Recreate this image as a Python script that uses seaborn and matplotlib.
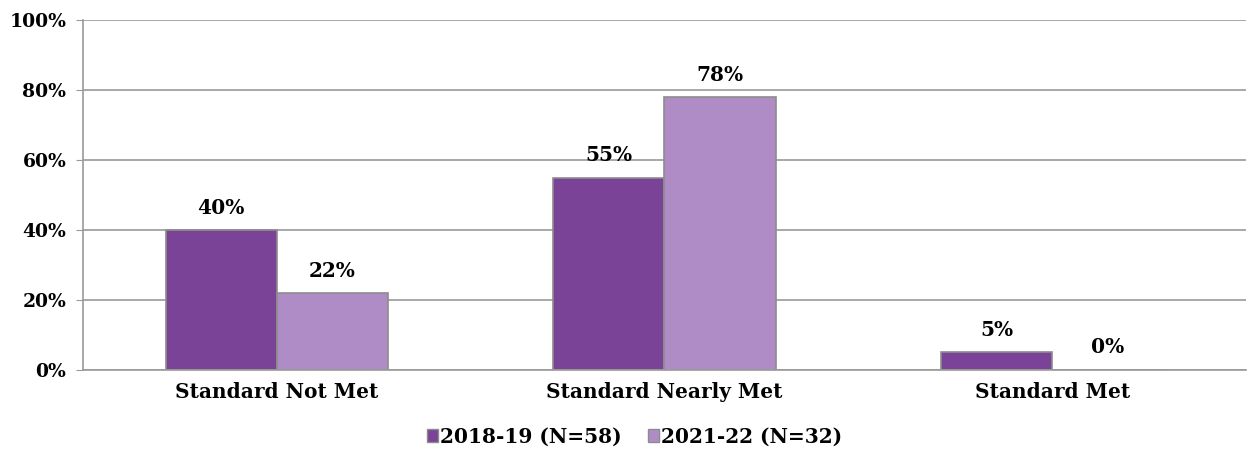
import pandas as pd
import matplotlib
matplotlib.use('Agg')
import matplotlib.pyplot as plt
import seaborn as sns
from matplotlib.patches import Patch

categories = ['Standard Not Met', 'Standard Nearly Met', 'Standard Met']
years = ['2018-19 (N=58)', '2021-22 (N=32)']
pct_2018 = [40, 55, 5]
pct_2021 = [22, 78, 0]

colors = ['#7B4397', '#B08CC6']

df = pd.DataFrame({
    'category': categories * 2,
    'year': [years[0]] * 3 + [years[1]] * 3,
    'pct': pct_2018 + pct_2021,
})

sns.set_style('white')
plt.rcParams['font.family'] = ['DejaVu Serif']
plt.rcParams['font.weight'] = 'bold'
plt.rcParams['text.color'] = 'black'
plt.rcParams['xtick.labelcolor'] = 'black'
plt.rcParams['ytick.labelcolor'] = 'black'

fig = plt.figure(figsize=(12.51, 4.49), dpi=100)
ax = fig.add_axes([0.0663, 0.176, 0.9297, 0.779])

sns.barplot(data=df, x='category', y='pct', hue='year', palette=colors,
            width=0.574, edgecolor='#8c8c8c', linewidth=1.2, ax=ax,
            legend=False, saturation=1)

for cont in ax.containers:
    ax.bar_label(cont, labels=[f'{v:.0f}%' for v in cont.datavalues],
                 padding=9, fontsize=14.5, fontweight='bold', color='black')

ax.set_ylim(0, 100)
ax.set_xlim(-0.5, 2.5)
ax.set_yticks(range(0, 101, 20))
ax.set_yticklabels([f'{v}%' for v in range(0, 101, 20)], fontsize=13.5, fontweight='bold')
ax.set_xticklabels(categories, fontsize=14.5, fontweight='bold')
ax.set_xlabel('')
ax.set_ylabel('')
ax.yaxis.grid(True, color='#9a9a9a', linewidth=1.2)
ax.set_axisbelow(True)
for s in ['top', 'right']:
    ax.spines[s].set_visible(False)
for s in ['left', 'bottom']:
    ax.spines[s].set_color('#9a9a9a')
    ax.spines[s].set_linewidth(1.2)
ax.tick_params(axis='y', left=True, length=5, color='#9a9a9a', pad=7)
ax.tick_params(axis='x', bottom=False, pad=5)

handles = [Patch(facecolor=c, edgecolor='#8c8c8c') for c in colors]
fig.legend(handles, years, loc='lower center', bbox_to_anchor=(0.507, -0.035),
           ncol=2, frameon=False, handlelength=0.55, handleheight=0.55,
           handletextpad=0.1, columnspacing=1.3, prop={'weight': 'bold', 'size': 14.5})

fig.savefig('out.png', dpi=100)
